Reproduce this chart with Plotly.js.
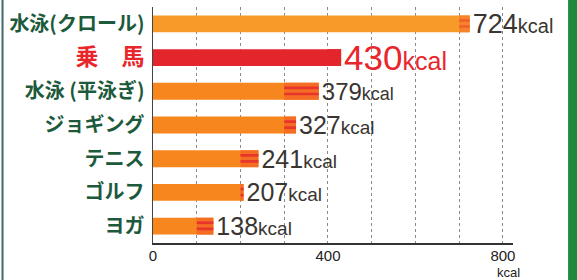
<!DOCTYPE html>
<html>
<head>
<meta charset="utf-8">
<script src="https://cdn.plot.ly/plotly-3.0.1.min.js"></script>
<style>html,body{margin:0;padding:0;background:#fff;}#chart{width:577px;height:280px;}</style>
</head>
<body>
<div id="chart"></div>
<script>
// Data
const categories = ['水泳(クロール)', '乗　馬', '水泳 (平泳ぎ)', 'ジョギング', 'テニス', 'ゴルフ', 'ヨガ'];
const values = [724, 430, 379, 327, 241, 207, 138];
const unit = 'kcal';
const xTickVals = [0, 400, 800];
const xTickText = ['0', '400', '800'];

// Styles
const barColors = ['#f89a2a', '#e3262c', '#f7861e', '#f7861e', '#f7861e', '#f7861e', '#f7861e'];
const tailColors = ['#f7822a', '#e3262c', '#f56c24', '#f56c24', '#f56c24', '#f56c24', '#f56c24'];
const stripeColors = ['#f0602a', '#e3262c', '#e8352c', '#e8352c', '#e8352c', '#e8352c', '#e8352c'];
const labelColors = ['#1d5a3c', '#e8262c', '#1d5a3c', '#1d5a3c', '#1d5a3c', '#1d5a3c', '#1d5a3c'];
const labelSizes = [20, 23, 20, 20, 20, 20, 20];
const valueColors = ['#3a3530', '#e8262c', '#3a3530', '#3a3530', '#3a3530', '#3a3530', '#3a3530'];
const numSizes = [27, 35, 24, 25, 25, 25, 25];
const unitSizes = [20, 25, 18, 19, 19, 19, 19];

const tickText = categories.map((c, i) =>
  `<span style="color:${labelColors[i]};font-size:${labelSizes[i]}px">${c}</span>`);
const valueText = values.map((v, i) =>
  `<span style="font-size:${numSizes[i]}px;color:${valueColors[i]}">${v}</span><span style="font-size:${unitSizes[i]}px;color:${valueColors[i]}">${unit}</span>`);

// striped tail segment: part of the bar beyond the last hundred
const tailBase = values.map(v => Math.floor(v / 100) * 100);
const tailLen = values.map((v, i) => v - tailBase[i]);

const main = {
  type: 'bar', orientation: 'h',
  y: categories, x: values,
  marker: {color: barColors, line: {width: 0}},
  text: valueText, textposition: 'outside', cliponaxis: false, constraintext: 'none',
  textfont: {family: 'Liberation Sans, Arial, sans-serif', size: 22, color: '#3a3530'},
  hoverinfo: 'none'
};
const tail = {
  type: 'bar', orientation: 'h',
  y: categories, x: tailLen, base: tailBase,
  marker: {color: tailColors, line: {width: 0}},
  hoverinfo: 'none'
};
const stripeA = {
  type: 'bar', orientation: 'h',
  y: categories, x: tailLen, base: tailBase, width: 0.08, offset: -0.14,
  marker: {color: stripeColors, line: {width: 0}},
  hoverinfo: 'none'
};
const stripeB = {
  type: 'bar', orientation: 'h',
  y: categories, x: tailLen, base: tailBase, width: 0.08, offset: 0.04,
  marker: {color: stripeColors, line: {width: 0}},
  hoverinfo: 'none'
};

const layout = {
  width: 577, height: 280,
  margin: {l: 153, r: 64, t: 7, b: 37},
  paper_bgcolor: '#ffffff', plot_bgcolor: '#ffffff',
  barmode: 'overlay', bargap: 0.5, showlegend: false,
  font: {family: 'Liberation Sans, Arial, sans-serif', color: '#222'},
  xaxis: {
    range: [0, 823], tickvals: xTickVals, ticktext: xTickText,
    showgrid: true, gridcolor: '#8a8a8a', griddash: 'dot', gridwidth: 1,
    minor: {dtick: 100, tick0: 0, showgrid: true, gridcolor: '#8a8a8a', griddash: 'dot', gridwidth: 1},
    showline: true, linecolor: '#333', linewidth: 1.5,
    zeroline: false, ticks: '', ticklabelstandoff: -2,
    tickfont: {size: 15, color: '#222'}, fixedrange: true
  },
  yaxis: {
    categoryorder: 'array', categoryarray: categories, autorange: 'reversed',
    tickvals: categories, ticktext: tickText,
    showline: true, linecolor: '#444', linewidth: 1.5, showgrid: false, ticks: '',
    ticklabelstandoff: 3,
    tickfont: {family: 'Noto Sans CJK JP', size: 20, color: '#1d5a3c', weight: 'bold'}, fixedrange: true
  },
  annotations: [{
    xref: 'x', yref: 'paper', x: 812, y: 0, yshift: -29, xanchor: 'center', yanchor: 'middle',
    text: unit, showarrow: false, font: {size: 13, color: '#222'}
  }],
  shapes: [
    {type: 'rect', xref: 'paper', yref: 'paper', x0: 1.153, x1: 1.2, y0: -0.2, y1: 1.1,
     fillcolor: '#1f8a3c', line: {width: 0}, layer: 'above'},
    {type: 'line', xref: 'paper', yref: 'paper', x0: -0.418, x1: -0.418, y0: -0.2, y1: 1.1,
     line: {color: '#3d6b6a', width: 2}}
  ]
};

Plotly.newPlot('chart', [main, tail, stripeA, stripeB], layout, {displayModeBar: false, staticPlot: true});
</script>
</body>
</html>
